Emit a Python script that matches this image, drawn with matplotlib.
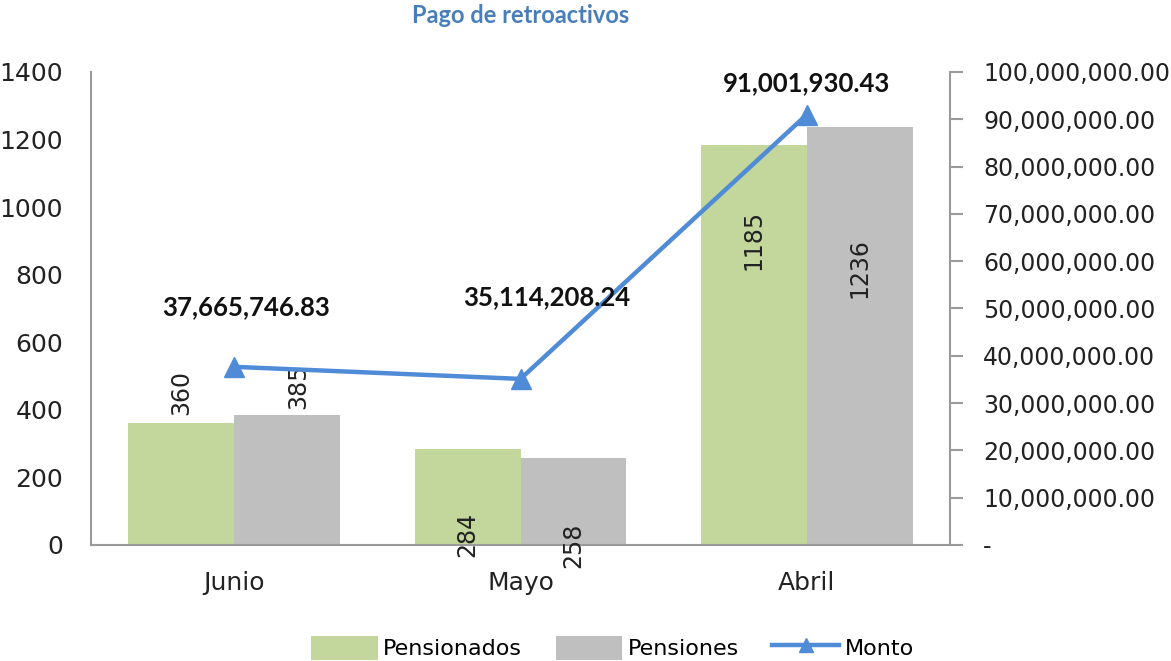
import matplotlib
matplotlib.use("Agg")
import matplotlib.pyplot as plt
from matplotlib.ticker import FuncFormatter, MultipleLocator
from matplotlib.lines import Line2D
from matplotlib.patches import Patch

categories = ["Junio", "Mayo", "Abril"]
pensionados = [360, 284, 1185]
pensiones = [385, 258, 1236]
monto = [37665746.83, 35114208.24, 91001930.43]
title = "Pago de retroactivos"

GREEN = "#c3d69b"
GRAY = "#bfbfbf"
BLUE = "#4f8bd6"
SPINE = "#9a9a9a"

fig = plt.figure(figsize=(11.71, 6.61), dpi=100)
ax = fig.add_axes([0.0777, 0.1755, 0.7336, 0.7156])
ax2 = ax.twinx()

x = list(range(len(categories)))
w = 0.37
ax.bar([i - w / 2 for i in x], pensionados, width=w, color=GREEN, zorder=2)
ax.bar([i + w / 2 for i in x], pensiones, width=w, color=GRAY, zorder=2)
ax.set_xlim(-0.5, 2.5)
ax.set_ylim(0, 1400)
ax.yaxis.set_major_locator(MultipleLocator(200))
ax.set_xticks(x)
ax.set_xticklabels(categories)
ax.tick_params(axis="x", length=0, pad=19, labelsize=18, colors="#222222")
ax.tick_params(axis="y", length=0, pad=20, labelsize=18, colors="#222222")
for s in ["top", "right"]:
    ax.spines[s].set_visible(False)
for s in ["left", "bottom"]:
    ax.spines[s].set_color(SPINE)
    ax.spines[s].set_linewidth(1.5)

# bar value labels (rotated)
lab_pos_g = [450, 32, 903]
lab_pos_p = [470, 0, 820]
lab_dx_p = [0.04, 0.0, 0.0]
for i in x:
    ax.text(i - w / 2, lab_pos_g[i], str(pensionados[i]), rotation=90,
            ha="center", va="center", fontsize=17, color="#222222", zorder=5)
    ax.text(i + w / 2 + lab_dx_p[i], lab_pos_p[i], str(pensiones[i]), rotation=90,
            ha="center", va="center", fontsize=17, color="#222222", zorder=5)

# line on secondary axis
ax2.plot(x, monto, color=BLUE, linewidth=3.2, marker="^", markersize=14,
         markeredgecolor=BLUE, zorder=4)
ax2.set_ylim(0, 100000000)
ax2.yaxis.set_major_locator(MultipleLocator(10000000))
ax2.yaxis.set_major_formatter(FuncFormatter(lambda v, p: "-" if v == 0 else f"{v:,.2f}"))
ax2.tick_params(axis="y", length=9, width=1.5, color=SPINE, pad=15,
                labelsize=17, labelcolor="#222222")
for s in ["top", "left", "bottom"]:
    ax2.spines[s].set_visible(False)
ax2.spines["right"].set_color(SPINE)
ax2.spines["right"].set_linewidth(1.5)

monto_lab_y = [50300000, 52400000, 97700000]
monto_lab_dx = [0.04, 0.09, 0.0]
for i in x:
    ax2.text(i + monto_lab_dx[i], monto_lab_y[i], f"{monto[i]:,.2f}", ha="center",
             va="center", fontsize=18.5, fontweight="bold", color="#111111",
             family="Lato", zorder=6)

fig.text(0.445, 0.977, title, ha="center", va="center", fontsize=17,
         fontweight="bold", color="#4a7ebb", family="Lato")

handles = [Patch(facecolor=GREEN, edgecolor="none"),
           Patch(facecolor=GRAY, edgecolor="none"),
           Line2D([0], [0], color=BLUE, linewidth=3.2, marker="^", markersize=10)]
fig.legend(handles, ["Pensionados", "Pensiones", "Monto"], loc="center",
           bbox_to_anchor=(0.523, 0.02), ncol=3, frameon=False, fontsize=16,
           handlelength=3.0, handleheight=1.3, handletextpad=0.25, columnspacing=1.5)

fig.savefig("out.png", dpi=100)
